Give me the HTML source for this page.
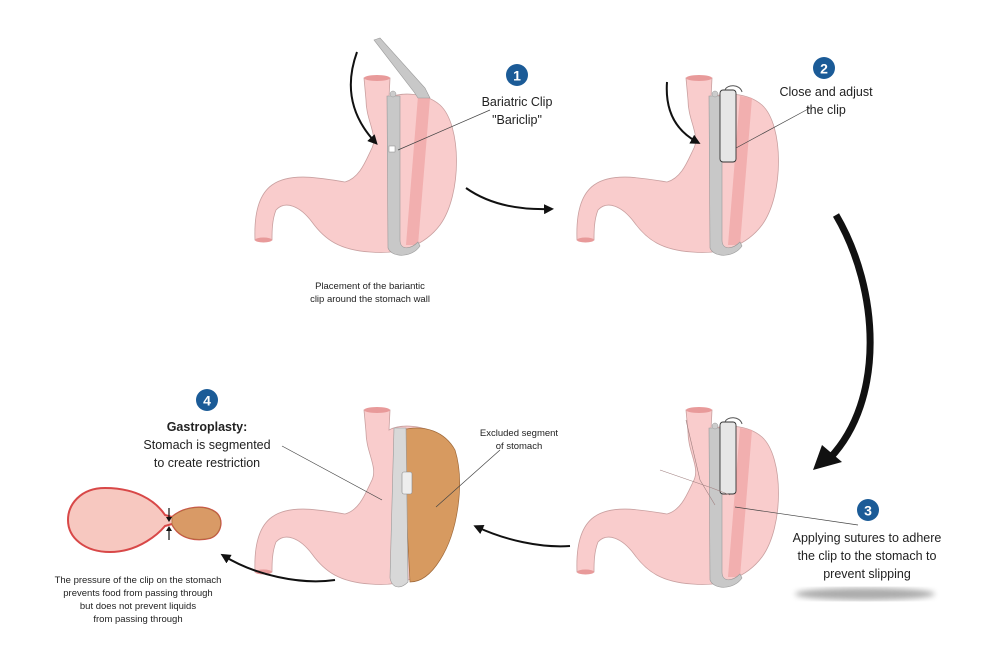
<!DOCTYPE html>
<html><head><meta charset="utf-8"><style>
html,body{margin:0;padding:0;background:#fff;}
svg{display:block;}
text{font-family:"Liberation Sans",sans-serif;fill:#222;}
</style></head><body>
<svg width="1000" height="667" viewBox="0 0 1000 667" xmlns="http://www.w3.org/2000/svg">
<defs>
<filter id="bl"><feGaussianBlur stdDeviation="3"/></filter>
<path id="st" d="M364,78 L390,78 L389,98 C400,92 425,92 440,105 C462,125 462,195 440,225 C425,245 400,255 370,252 C340,250 325,240 312,222 C300,206 285,200 276,210 C272,220 272,232 272,240 L255,240 C254,215 258,195 272,185 C290,172 320,178 345,182 C360,178 366,160 372,148 C378,135 366,120 366,100 Z" fill="#f9cccc" stroke="#c9a0a0" stroke-width="0.8"/>
<g id="ends">
<ellipse cx="377" cy="78" rx="13" ry="3" fill="#e89a9a"/>
<ellipse cx="263.5" cy="240" rx="8.5" ry="2.5" fill="#e89a9a"/>
</g>
<g id="band">
<path d="M418,96 L430,98 L418,245 L406,245 Z" fill="#f0a8a8" opacity="0.8"/>
<path d="M387,96 L400,96 L400,240 C400,250 410,250 418,242 L420,246 C412,258 392,258 388,248 Z" fill="#c8c8c8" stroke="#999" stroke-width="0.6"/>
<circle cx="393" cy="94" r="3" fill="#ccc" stroke="#999" stroke-width="0.5"/>
</g>
<marker id="ah" markerWidth="10" markerHeight="10" refX="6" refY="5" orient="auto" markerUnits="userSpaceOnUse"><path d="M0,0 L10,5 L0,10 Z" fill="#111"/></marker>
</defs>

<use href="#st"/><use href="#ends"/><use href="#band"/>
<path d="M374,40 L380,38 L425,88 L430,98 L418,98 L414,92 Z" fill="#c8c8c8" stroke="#999" stroke-width="0.6"/>
<rect x="389" y="146" width="6" height="6" fill="#fff" stroke="#888" stroke-width="0.5"/>
<line x1="398" y1="150" x2="490" y2="110" stroke="#444" stroke-width="0.7"/>
<path d="M357,52 C345,85 350,115 375,142" fill="none" stroke="#111" stroke-width="2" marker-end="url(#ah)"/>
<circle cx="517" cy="75" r="11" fill="#1b5b97"/><text x="517" y="80.5" text-anchor="middle" font-size="14" font-weight="bold" style="fill:#fff">1</text>
<text x="517" y="106" text-anchor="middle" font-size="12.5">Bariatric Clip</text>
<text x="517" y="124" text-anchor="middle" font-size="12.5">"Bariclip"</text>
<text x="370" y="289" text-anchor="middle" font-size="9.5">Placement of the bariantic</text>
<text x="370" y="302" text-anchor="middle" font-size="9.5">clip around the stomach wall</text>
<path d="M466,188 C490,205 520,210 550,209" fill="none" stroke="#111" stroke-width="2" marker-end="url(#ah)"/>

<g transform="translate(322,0)">
<use href="#st"/><use href="#ends"/><use href="#band"/>
<rect x="398" y="90" width="16" height="72" rx="3" fill="#e6e6e6" stroke="#333" stroke-width="0.9"/>
<path d="M403,90 C405,84 418,84 420,92" fill="none" stroke="#555" stroke-width="1"/>
</g>
<line x1="736" y1="148" x2="810" y2="108" stroke="#444" stroke-width="0.7"/>
<path d="M667,82 C665,110 675,130 697,142" fill="none" stroke="#111" stroke-width="2" marker-end="url(#ah)"/>
<circle cx="824" cy="68" r="11" fill="#1b5b97"/><text x="824" y="73.5" text-anchor="middle" font-size="14" font-weight="bold" style="fill:#fff">2</text>
<text x="826" y="96" text-anchor="middle" font-size="12.5">Close and adjust</text>
<text x="826" y="114" text-anchor="middle" font-size="12.5">the clip</text>

<path d="M836,215 C880,290 885,400 830,458" fill="none" stroke="#111" stroke-width="7"/>
<path d="M813,470 L822,445 L842,462 Z" fill="#111"/>

<g transform="translate(322,332)">
<use href="#st"/><use href="#ends"/><use href="#band"/>
<rect x="398" y="90" width="16" height="72" rx="3" fill="#e6e6e6" stroke="#333" stroke-width="0.9"/>
<path d="M403,90 C405,84 418,84 420,92" fill="none" stroke="#555" stroke-width="1"/>
</g>
<path d="M686,420 L700,480 L715,505 M660,470 L712,488 L730,495" fill="none" stroke="#a08080" stroke-width="0.6"/>
<line x1="735" y1="507" x2="858" y2="525" stroke="#444" stroke-width="0.7"/>
<circle cx="868" cy="510" r="11" fill="#1b5b97"/><text x="868" y="515.5" text-anchor="middle" font-size="14" font-weight="bold" style="fill:#fff">3</text>
<text x="867" y="542" text-anchor="middle" font-size="12.5">Applying sutures to adhere</text>
<text x="867" y="560" text-anchor="middle" font-size="12.5">the clip to the stomach to</text>
<text x="867" y="578" text-anchor="middle" font-size="12.5">prevent slipping</text>
<ellipse cx="865" cy="594" rx="70" ry="6" fill="#666" opacity="0.55" filter="url(#bl)"/>
<path d="M570,546 C540,548 505,540 477,527" fill="none" stroke="#111" stroke-width="2" marker-end="url(#ah)"/>

<g transform="translate(0,332)">
<use href="#st"/><use href="#ends"/>
<path d="M402,98 C425,92 445,100 455,118 C465,150 458,200 440,228 C430,244 420,250 410,250 Z" fill="#d79a60" stroke="#a06a3a" stroke-width="0.7"/>
<path d="M394,96 L406,96 L408,250 C400,258 392,256 390,246 Z" fill="#d8d8d8" stroke="#999" stroke-width="0.6"/>
<rect x="402" y="140" width="10" height="22" rx="2" fill="#eee" stroke="#888" stroke-width="0.6"/>
</g>
<line x1="282" y1="446" x2="382" y2="500" stroke="#444" stroke-width="0.7"/>
<line x1="500" y1="450" x2="436" y2="507" stroke="#444" stroke-width="0.7"/>
<text x="519" y="436" text-anchor="middle" font-size="9.5">Excluded segment</text>
<text x="519" y="449" text-anchor="middle" font-size="9.5">of stomach</text>
<circle cx="207" cy="400" r="11" fill="#1b5b97"/><text x="207" y="405.5" text-anchor="middle" font-size="14" font-weight="bold" style="fill:#fff">4</text>
<text x="207" y="431" text-anchor="middle" font-size="12.5" font-weight="bold">Gastroplasty:</text>
<text x="207" y="449" text-anchor="middle" font-size="12.5">Stomach is segmented</text>
<text x="207" y="467" text-anchor="middle" font-size="12.5">to create restriction</text>
<path d="M335,580 C300,585 255,575 224,556" fill="none" stroke="#111" stroke-width="2" marker-end="url(#ah)"/>

<path d="M105,488 C80,488 68,505 68,520 C68,538 85,552 110,552 C140,552 160,532 165,526 L172,524 C180,540 198,541 210,538 C222,534 224,518 215,512 C205,505 185,506 172,517 L165,515 C155,500 135,488 105,488 Z" fill="#f7c8c0" stroke="#d84848" stroke-width="2"/>
<path d="M172,517 C185,506 205,505 215,512 C224,518 222,534 210,538 C198,541 180,540 172,524 Z" fill="#d99a66" stroke="#b07040" stroke-width="0.8"/>
<line x1="169" y1="508" x2="169" y2="520" stroke="#111" stroke-width="1.2"/><path d="M166,517 L169,522 L172,517 Z" fill="#111"/>
<line x1="169" y1="540" x2="169" y2="528" stroke="#111" stroke-width="1.2"/><path d="M166,531 L169,526 L172,531 Z" fill="#111"/>
<text x="138" y="583" text-anchor="middle" font-size="9.5">The pressure of the clip on the stomach</text>
<text x="138" y="596" text-anchor="middle" font-size="9.5">prevents food from passing through</text>
<text x="138" y="609" text-anchor="middle" font-size="9.5">but does not prevent liquids</text>
<text x="138" y="622" text-anchor="middle" font-size="9.5">from passing through</text>
</svg>
</body></html>
